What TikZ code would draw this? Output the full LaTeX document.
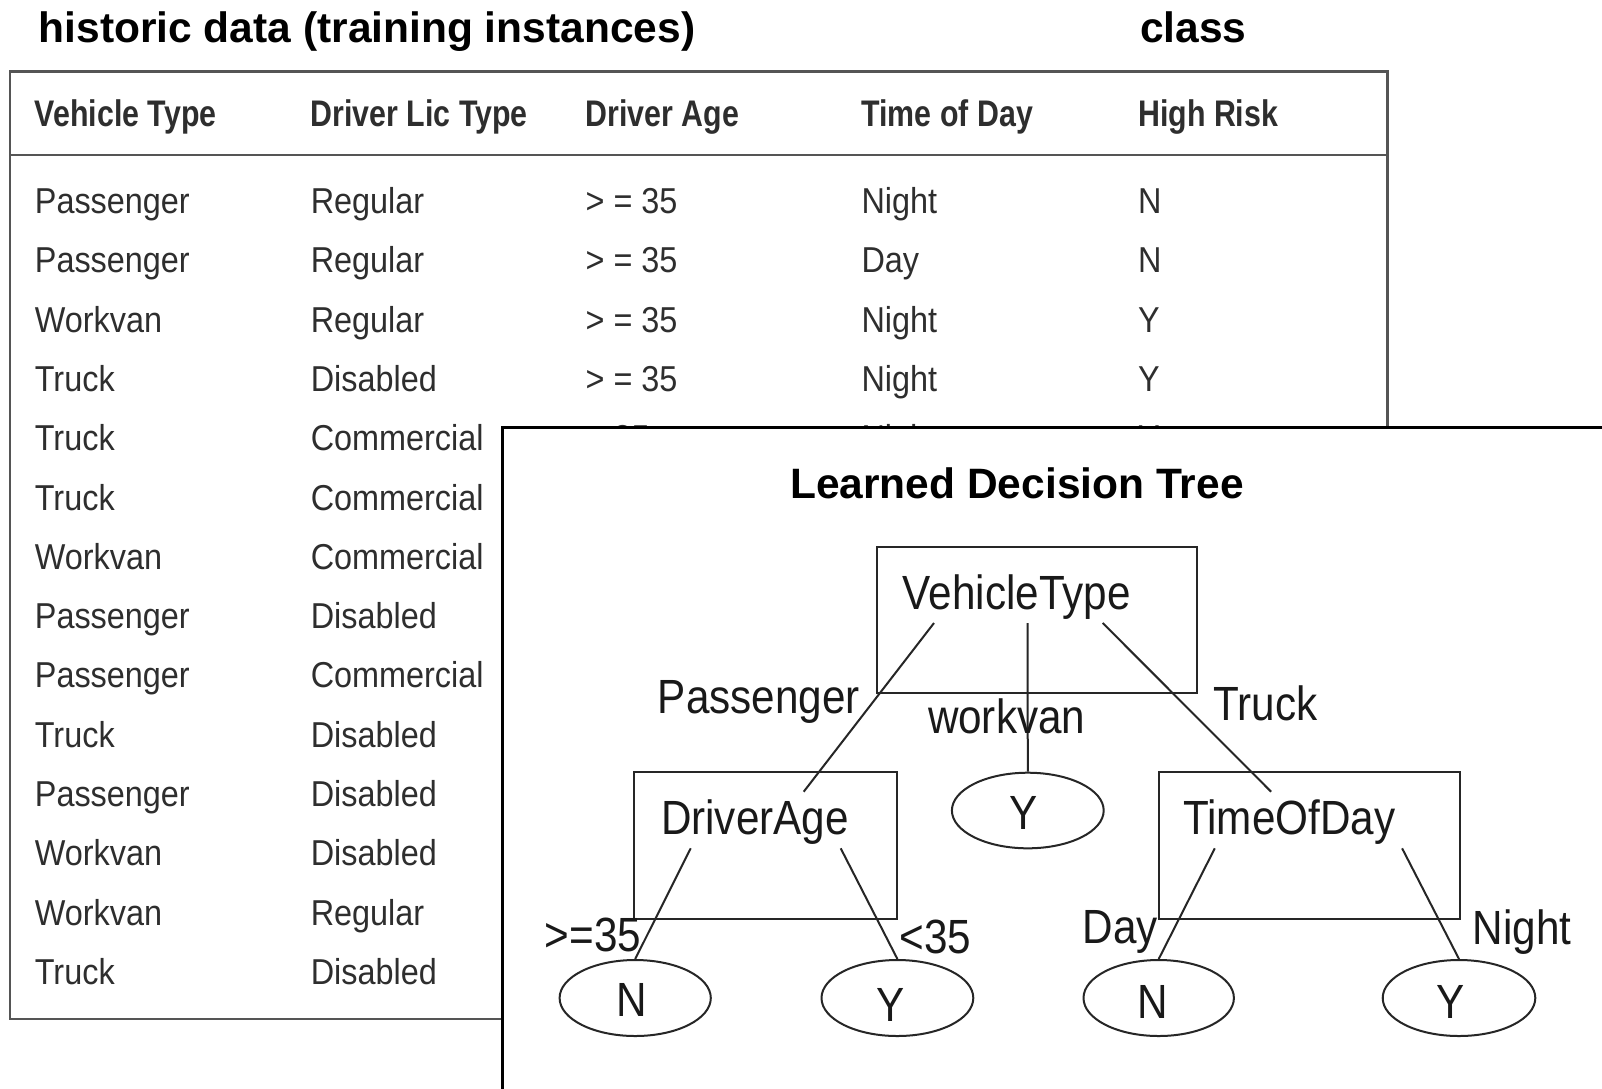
\documentclass[tikz,border=0pt]{standalone}
\usepackage{fontspec}
\setmainfont{Liberation Sans}
\newfontfamily\tabfont[FakeStretch=0.9]{Liberation Sans}
\newfontfamily\headfont[FakeStretch=0.82]{Liberation Sans}
\newfontfamily\treefont[FakeStretch=0.88]{Liberation Sans}
\usetikzlibrary{shapes.geometric}
\definecolor{ink}{HTML}{2E2E2E}
\definecolor{rule}{HTML}{555555}

\begin{document}
\begin{tikzpicture}[x=1pt,y=-1pt,
  titletext/.style={font=\fontsize{42.5}{48}\selectfont\bfseries, anchor=base west, inner sep=0pt},
  headcell/.style={font=\headfont\fontsize{37}{42}\selectfont\bfseries, anchor=base west, inner sep=0pt, text=ink},
  bodycell/.style={font=\tabfont\fontsize{36}{40}\selectfont, anchor=base west, inner sep=0pt, text=ink},
  treetext/.style={font=\treefont\fontsize{48}{52}\selectfont, anchor=base west, inner sep=0pt, text=black!90},
  leaftext/.style={font=\treefont\fontsize{48}{52}\selectfont, anchor=base, inner sep=0pt, text=black!90},
  testbox/.style={draw=black!85, line width=2pt, rectangle, inner sep=0pt},
  leaf/.style={draw=black!85, line width=2pt, ellipse, inner sep=0pt},
  branch/.style={draw=black!85, line width=2pt},
  tablerule/.style={draw=rule, line width=2.2pt}]

\useasboundingbox[fill=white] (0,0) rectangle (1602,1088);

% headings above the table
\node[titletext] (histtitle) at (38.5,42) {historic data (training instances)};
\node[titletext] (classtitle) at (1140,42) {class};

% table frame
\draw[tablerule] (10,71.5) rectangle (1387.5,1019);
\draw[tablerule] (10,155) -- (1387.5,155);

% header row
\node[headcell] (h1) at (34.7,126) {Vehicle Type};
\node[headcell] (h2) at (310.6,126) {Driver Lic Type};
\node[headcell] (h3) at (585.4,126) {Driver Age};
\node[headcell] (h4) at (861.3,126) {Time of Day};
\node[headcell] (h5) at (1138,126) {High Risk};

% first two columns of every row
\foreach \i/\va/\vb in {1/Passenger/Regular, 2/Passenger/Regular, 3/Workvan/Regular,
    4/Truck/Disabled, 5/Truck/Commercial, 6/Truck/Commercial, 7/Workvan/Commercial,
    8/Passenger/Disabled, 9/Passenger/Commercial, 10/Truck/Disabled,
    11/Passenger/Disabled, 12/Workvan/Disabled, 13/Workvan/Regular, 14/Truck/Disabled}{
  \pgfmathsetmacro{\rowy}{213.5+(\i-1)*59.3}
  \node[bodycell] (r\i c1) at (34.7,\rowy) {\va};
  \node[bodycell] (r\i c2) at (310.6,\rowy) {\vb};
}
% remaining columns of the upper rows
\foreach \i/\vc/\vd/\ve in {1/> = 35/Night/N, 2/> = 35/Day/N, 3/> = 35/Night/Y,
    4/> = 35/Night/Y, 5/< 35/Night/Y}{
  \pgfmathsetmacro{\rowy}{213.5+(\i-1)*59.3}
  \node[bodycell] (r\i c3) at (585.4,\rowy) {\vc};
  \node[bodycell] (r\i c4) at (861.3,\rowy) {\vd};
  \node[bodycell] (r\i c5) at (1138,\rowy) {\ve};
}

% panel with the learned tree, laid over the table
\fill[white] (502,425.5) rectangle (1610,1095);
\draw[line width=3pt, draw=black] (502,1095) -- (502,427) -- (1610,427);

\node[titletext] (treetitle) at (790,498.3) {Learned Decision Tree};

% test nodes
\node[testbox, minimum width=319.4pt, minimum height=146pt] (vt) at (1037,620.3) {};
\node[treetext] (vtname) at (902.7,609.3) {VehicleType};
\node[testbox, minimum width=263.4pt, minimum height=146.4pt] (da) at (765.7,845.5) {};
\node[treetext] (daname) at (660.8,834) {DriverAge};
\node[testbox, minimum width=300.3pt, minimum height=146.4pt] (td) at (1309.35,845.5) {};
\node[treetext] (tdname) at (1183,834.3) {TimeOfDay};

% leaves
\node[leaf, minimum width=151.8pt, minimum height=75.6pt] (wy) at (1027.8,810.5) {};
\node[leaftext] (wytext) at (1023.5,829.5) {Y};
\node[leaf, minimum width=151.2pt, minimum height=76pt] (n1) at (635.2,998) {};
\node[leaftext] (n1text) at (631.4,1016.7) {N};
\node[leaf, minimum width=151.8pt, minimum height=76pt] (y1) at (897.4,998) {};
\node[leaftext] (y1text) at (891,1021.7) {Y};
\node[leaf, minimum width=150.4pt, minimum height=76pt] (n2) at (1158.7,998) {};
\node[leaftext] (n2text) at (1152.6,1018) {N};
\node[leaf, minimum width=152.6pt, minimum height=76pt] (y2) at (1459,998) {};
\node[leaftext] (y2text) at (1450.5,1018) {Y};

% branch end points inside the test boxes
\coordinate (vt-p) at (934,623);
\coordinate (vt-w) at (1027.5,623);
\coordinate (vt-t) at (1102.7,623);
\coordinate (da-in) at (803.7,791.7);
\coordinate (td-in) at (1271.1,791.7);
\coordinate (da-l) at (690.7,848.3);
\coordinate (da-r) at (840.7,848.3);
\coordinate (td-l) at (1214.8,848.3);
\coordinate (td-r) at (1402.1,848.3);

% branches
\draw[branch] (vt-p) -- (da-in);
\draw[branch] (vt-w) -- (wy.north);
\draw[branch] (vt-t) -- (td-in);
\draw[branch] (da-l) -- (n1.north);
\draw[branch] (da-r) -- (y1.north);
\draw[branch] (td-l) -- (n2.north);
\draw[branch] (td-r) -- (y2.north);

% branch labels
\node[treetext] (lpass) at (657.7,713.3) {Passenger};
\node[treetext] (lwork) at (927.8,733.6) {workvan};
\node[treetext] (ltruck) at (1213.3,720) {Truck};
\node[treetext] (lge) at (544.7,951.7) {>=35};
\node[treetext] (llt) at (899.6,953.3) {<35};
\node[treetext] (lday) at (1082.4,943.3) {Day};
\node[treetext] (lnight) at (1472.5,944.3) {Night};
\end{tikzpicture}
\end{document}
